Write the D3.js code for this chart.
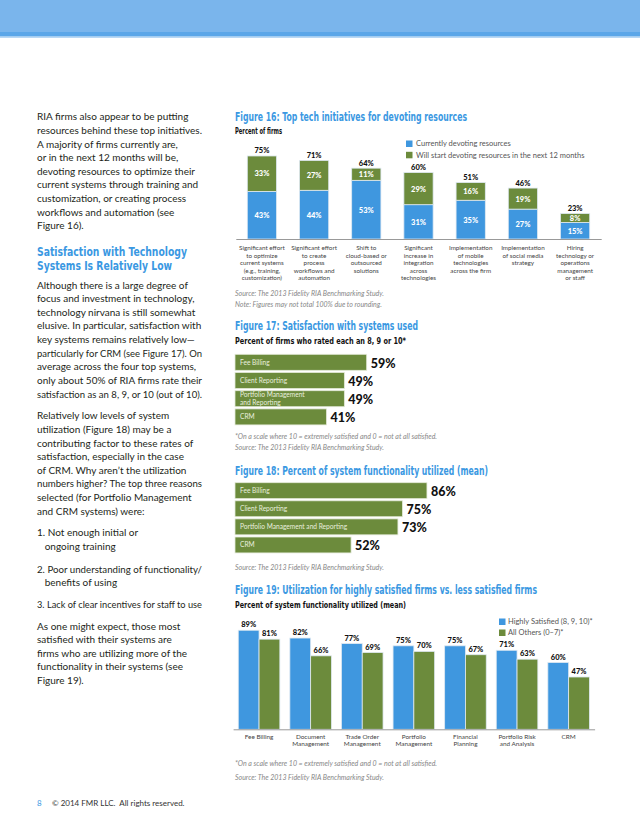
<!DOCTYPE html>
<html>
<head>
<meta charset="utf-8">
<script src="https://cdn.jsdelivr.net/npm/d3@7"></script>
<style>
  body { margin: 0; background: #fff; }
  svg { display: block; }
</style>
</head>
<body>
<div id="page"></div>
<script>
// ---- data ----
const fig16Categories = [
    ["Significant effort", "to optimize", "current systems", "(e.g., training,", "customization)"],
    ["Significant effort", "to create", "process", "workflows and", "automation"],
    ["Shift to", "cloud-based or", "outsourced", "solutions"],
    ["Significant", "increase in", "integration", "across", "technologies"],
    ["Implementation", "of mobile", "technologies", "across the firm"],
    ["Implementation", "of social media", "strategy"],
    ["Hiring", "technology or", "operations", "management", "or staff"]
];
const fig16Current = [43, 44, 53, 31, 35, 27, 15];
const fig16Next = [33, 27, 11, 29, 16, 19, 8];
const fig16Total = [75, 71, 64, 60, 51, 46, 23];
const fig16Legend = ["Currently devoting resources", "Will start devoting resources in the next 12 months"];

const fig17Categories = [["Fee Billing"], ["Client Reporting"], ["Portfolio Management", "and Reporting"], ["CRM"]];
const fig17Values = [59, 49, 49, 41];

const fig18Categories = [["Fee Billing"], ["Client Reporting"], ["Portfolio Management and Reporting"], ["CRM"]];
const fig18Values = [86, 75, 73, 52];

const fig19Categories = [
    ["Fee Billing"], ["Document", "Management"], ["Trade Order", "Management"], ["Portfolio", "Management"],
    ["Financial", "Planning"], ["Portfolio Risk", "and Analysis"], ["CRM"]
];
const fig19High = [89, 82, 77, 75, 75, 71, 60];
const fig19Others = [81, 66, 69, 70, 67, 63, 47];
const fig19Legend = ["Highly Satisfied (8, 9, 10)*", "All Others (0\u20137)*"];

const bodyLines = [
    ["RIA firms also appear to be putting", 116.7],
    ["resources behind these top initiatives.", 130.3],
    ["A majority of firms currently are,", 144],
    ["or in the next 12 months will be,", 157.6],
    ["devoting resources to optimize their", 171.2],
    ["current systems through training and", 184.8],
    ["customization, or creating process", 198.5],
    ["workflows and automation (see", 212.1],
    ["Figure 16).", 225.7],
    ["Although there is a large degree of", 285],
    ["focus and investment in technology,", 298.6],
    ["technology nirvana is still somewhat", 312.2],
    ["elusive. In particular, satisfaction with", 325.8],
    ["key systems remains relatively low\u2014", 339.5],
    ["particularly for CRM (see Figure 17). On", 353.1],
    ["average across the four top systems,", 366.7],
    ["only about 50% of RIA firms rate their", 380.3],
    ["satisfaction as an 8, 9, or 10 (out of 10).", 394],
    ["Relatively low levels of system", 415.7],
    ["utilization (Figure 18) may be a", 429.3],
    ["contributing factor to these rates of", 443],
    ["satisfaction, especially in the case", 456.6],
    ["of CRM. Why aren\u2019t the utilization", 470.2],
    ["numbers higher? The top three reasons", 483.8],
    ["selected (for Portfolio Management", 497.4],
    ["and CRM systems) were:", 511],
    ["1. Not enough initial or", 532.7],
    ["   ongoing training", 546.4],
    ["2. Poor understanding of functionality/", 569],
    ["   benefits of using", 582.5],
    ["3. Lack of clear incentives for staff to use", 604],
    ["As one might expect, those most", 626],
    ["satisfied with their systems are", 639.6],
    ["firms who are utilizing more of the", 653.2],
    ["functionality in their systems (see", 666.9],
    ["Figure 19).", 680.5]
];

// ---- styles ----
const BLUE = "#3f97df";
const GREEN = "#6c8b3c";
const HEAD = "#3a98e2";
const BODY_FONT = "Lato, 'Open Sans', sans-serif";
const HEAD_FONT = "'Liberation Sans Narrow', 'DejaVu Sans Condensed', 'Roboto', sans-serif";
const NUM_FONT = "Lato, 'DejaVu Sans', sans-serif";

const svg = d3.select("#page").append("svg")
    .attr("width", 640)
    .attr("height", 828);

// header band
svg.append("rect").attr("x", 0).attr("y", 0).attr("width", 640).attr("height", 32).attr("fill", "#7ab5ec");
svg.append("rect").attr("x", 0).attr("y", 32).attr("width", 640).attr("height", 4.5).attr("fill", "#5ba6e8");
svg.append("rect").attr("x", 0).attr("y", 36.5).attr("width", 640).attr("height", 1.2).attr("fill", "#9cc8f0");

function txt(x, y, s, size, opts) {
    opts = opts || {};
    let t = svg.append("text")
        .attr("x", x)
        .attr("y", y + size * 0.35)
        .attr("font-family", opts.family || BODY_FONT)
        .attr("font-size", size)
        .attr("font-weight", opts.weight || "normal")
        .attr("font-style", opts.style || "normal")
        .attr("fill", opts.fill || "#231f20")
        .attr("text-anchor", opts.anchor || "start")
        .attr("xml:space", "preserve")
        .text(s);
    if (opts.fit) {
        t.attr("textLength", opts.fit).attr("lengthAdjust", "spacingAndGlyphs");
    }
    return t;
}

function heading(x, y, s, width) {
    return txt(x, y, s, 11.5, {family: HEAD_FONT, weight: "bold", fill: HEAD, fit: width});
}
function subtitle(y, s, width) {
    return txt(235, y, s, 8, {family: HEAD_FONT, weight: "bold", fill: "#111", fit: width});
}

// left column
for (let l of bodyLines) {
    let t = txt(37, l[1], l[0], 10);
    let w = t.node().getComputedTextLength();
    if (w > 165) { t.attr("textLength", 165).attr("lengthAdjust", "spacingAndGlyphs"); }
}
txt(37, 251.9, "Satisfaction with Technology", 12.4, {family: HEAD_FONT, weight: "bold", fill: HEAD, fit: 150});
txt(37, 265.3, "Systems Is Relatively Low", 12.4, {family: HEAD_FONT, weight: "bold", fill: HEAD, fit: 135});

// footer
txt(37, 803, "8", 8, {fill: HEAD});
txt(52, 803, "\u00a9 2014 FMR LLC.  All rights reserved.", 8, {fill: "#333"});

function srcLine(y, s) {
    txt(235, y, s, 7, {style: "italic", fill: "#888"});
}

function multiLabelAxis(g, cats, lineStep) {
    g.selectAll(".tick text").each(function (d, i) {
        let t = d3.select(this).text("");
        cats[i].forEach((line, k) => {
            t.append("tspan").attr("x", 0).attr("dy", k === 0 ? 0 : lineStep).text(line);
        });
    });
}

// ---- Figure 16 ----
heading(235, 117, "Figure 16: Top tech initiatives for devoting resources", 232);
subtitle(131, "Percent of firms", 47);

const x16 = d3.scaleBand().domain(d3.range(fig16Current.length)).range([235.8, 601.2]).paddingInner(0.44).paddingOuter(0.22);
const y16 = d3.scaleLinear().domain([0, 100]).range([239, 239 - 110.7]);

const g16 = svg.append("g");
g16.selectAll(".cur").data(fig16Current).join("rect")
    .attr("x", (d, i) => x16(i)).attr("width", x16.bandwidth())
    .attr("y", d => y16(d)).attr("height", d => y16(0) - y16(d))
    .attr("fill", BLUE).attr("stroke", "#dfe9f2").attr("stroke-width", 0.8);
g16.selectAll(".nxt").data(fig16Next).join("rect")
    .attr("x", (d, i) => x16(i)).attr("width", x16.bandwidth())
    .attr("y", (d, i) => y16(fig16Total[i]))
    .attr("height", (d, i) => y16(fig16Current[i]) - y16(fig16Total[i]))
    .attr("fill", GREEN).attr("stroke", "#dfe9f2").attr("stroke-width", 0.8);
g16.selectAll(".curl").data(fig16Current).join("text")
    .attr("x", (d, i) => x16(i) + x16.bandwidth() / 2)
    .attr("y", d => y16(d / 2) + 3)
    .attr("text-anchor", "middle").attr("font-family", NUM_FONT).attr("font-weight", 900)
    .attr("font-size", 7.5).attr("fill", "#fff").text(d => d + "%");
g16.selectAll(".nxtl").data(fig16Next).join("text")
    .attr("x", (d, i) => x16(i) + x16.bandwidth() / 2)
    .attr("y", (d, i) => y16(fig16Current[i] + d / 2) + 3)
    .attr("text-anchor", "middle").attr("font-family", NUM_FONT).attr("font-weight", 900)
    .attr("font-size", 7.5).attr("fill", "#fff").text(d => d + "%");
g16.selectAll(".tot").data(fig16Total).join("text")
    .attr("x", (d, i) => x16(i) + x16.bandwidth() / 2)
    .attr("y", d => y16(d) - 2.5)
    .attr("text-anchor", "middle").attr("font-family", NUM_FONT).attr("font-weight", 900)
    .attr("font-size", 7.5).attr("fill", "#111").text(d => d + "%");

const ax16 = svg.append("g").attr("transform", "translate(0," + y16(0) + ")")
    .call(d3.axisBottom(x16).tickSize(0).tickSizeOuter(0).tickPadding(11));
ax16.select(".domain").attr("stroke", "#999");
ax16.selectAll(".tick text").attr("font-family", BODY_FONT).attr("font-size", 6.3).attr("fill", "#444");
multiLabelAxis(ax16, fig16Categories, 7.5);

[BLUE, GREEN].forEach((c, i) => {
    svg.append("rect").attr("x", 406).attr("y", 140.5 + i * 11.3).attr("width", 6.5).attr("height", 6.5).attr("fill", c);
    txt(416, 143.8 + i * 11.3, fig16Legend[i], 7.5, {fill: "#555"});
});

srcLine(293.7, "Source: The 2013 Fidelity RIA Benchmarking Study.");
srcLine(304.3, "Note: Figures may not total 100% due to rounding.");

// ---- horizontal bar figures (17, 18) ----
const xH = d3.scaleLinear().domain([0, 100]).range([235, 235 + 223.2]);

function hbars(cats, vals, top, step) {
    const y = d3.scaleBand().domain(d3.range(vals.length)).range([top, top + step * (vals.length - 0.12)]).paddingInner(0.12);
    const g = svg.append("g");
    g.selectAll("rect").data(vals).join("rect")
        .attr("x", xH(0)).attr("y", (d, i) => y(i))
        .attr("width", d => xH(d) - xH(0)).attr("height", y.bandwidth())
        .attr("fill", GREEN).attr("stroke", "#e4ead9").attr("stroke-width", 0.8);
    g.selectAll(".val").data(vals).join("text")
        .attr("x", d => xH(d) + 4)
        .attr("y", (d, i) => y(i) + y.bandwidth() / 2 + 5.5)
        .attr("font-family", NUM_FONT).attr("font-weight", 900).attr("font-size", 12.5)
        .attr("fill", "#111").text(d => d + "%");
    cats.forEach((lines, i) => {
        const n = lines.length;
        lines.forEach((s, k) => {
            const cy = y(i) + y.bandwidth() / 2 + (k - (n - 1) / 2) * 7.2;
            txt(240, cy, s, 6.6, {fill: "#e9efdf"});
        });
    });
}

heading(235, 326, "Figure 17: Satisfaction with systems used", 183);
subtitle(341, "Percent of firms who rated each an 8, 9 or 10*", 171);
hbars(fig17Categories, fig17Values, 354.3, 18.2);
srcLine(437, "*On a scale where 10 = extremely satisfied and 0 = not at all satisfied.");
srcLine(447.7, "Source: The 2013 Fidelity RIA Benchmarking Study.");

heading(235, 471, "Figure 18: Percent of system functionality utilized (mean)", 253);
hbars(fig18Categories, fig18Values, 482.7, 18.1);
srcLine(567.3, "Source: The 2013 Fidelity RIA Benchmarking Study.");

// ---- Figure 19 ----
heading(235, 590, "Figure 19: Utilization for highly satisfied firms vs. less satisfied firms", 302);
subtitle(605, "Percent of system functionality utilized (mean)", 171);

const x19 = d3.scaleBand().domain(d3.range(fig19High.length)).range([233.1, 594.6]).paddingInner(0.194).paddingOuter(0.1);
const xs19 = d3.scaleBand().domain([0, 1]).range([0, x19.bandwidth()]);
const y19 = d3.scaleLinear().domain([0, 100]).range([729.3, 729.3 - 111.3]);

const series19 = [fig19High, fig19Others];
series19.forEach((vals, s) => {
    const g = svg.append("g");
    g.selectAll("rect").data(vals).join("rect")
        .attr("x", (d, i) => x19(i) + xs19(s)).attr("width", xs19.bandwidth())
        .attr("y", d => y19(d)).attr("height", d => y19(0) - y19(d))
        .attr("fill", s === 0 ? BLUE : GREEN).attr("stroke", "#dfe9f2").attr("stroke-width", 0.8);
    g.selectAll("text").data(vals).join("text")
        .attr("x", (d, i) => x19(i) + xs19(s) + xs19.bandwidth() / 2)
        .attr("y", d => y19(d) - 3)
        .attr("text-anchor", "middle").attr("font-family", NUM_FONT).attr("font-weight", 900)
        .attr("font-size", 7.5).attr("fill", "#111").text(d => d + "%");
});

const ax19 = svg.append("g").attr("transform", "translate(0," + y19(0) + ")")
    .call(d3.axisBottom(x19).tickSize(0).tickSizeOuter(0).tickPadding(9.8));
ax19.select(".domain").attr("stroke", "#999");
ax19.selectAll(".tick text").attr("font-family", BODY_FONT).attr("font-size", 6.4).attr("fill", "#444");
multiLabelAxis(ax19, fig19Categories, 7.4);

[BLUE, GREEN].forEach((c, i) => {
    svg.append("rect").attr("x", 499).attr("y", 618.5 + i * 11).attr("width", 6.5).attr("height", 6.5).attr("fill", c);
    txt(508, 621.7 + i * 11, fig19Legend[i], 7.5, {fill: "#555"});
});

srcLine(764, "*On a scale where 10 = extremely satisfied and 0 = not at all satisfied.");
srcLine(777.3, "Source: The 2013 Fidelity RIA Benchmarking Study.");
</script>
</body>
</html>
